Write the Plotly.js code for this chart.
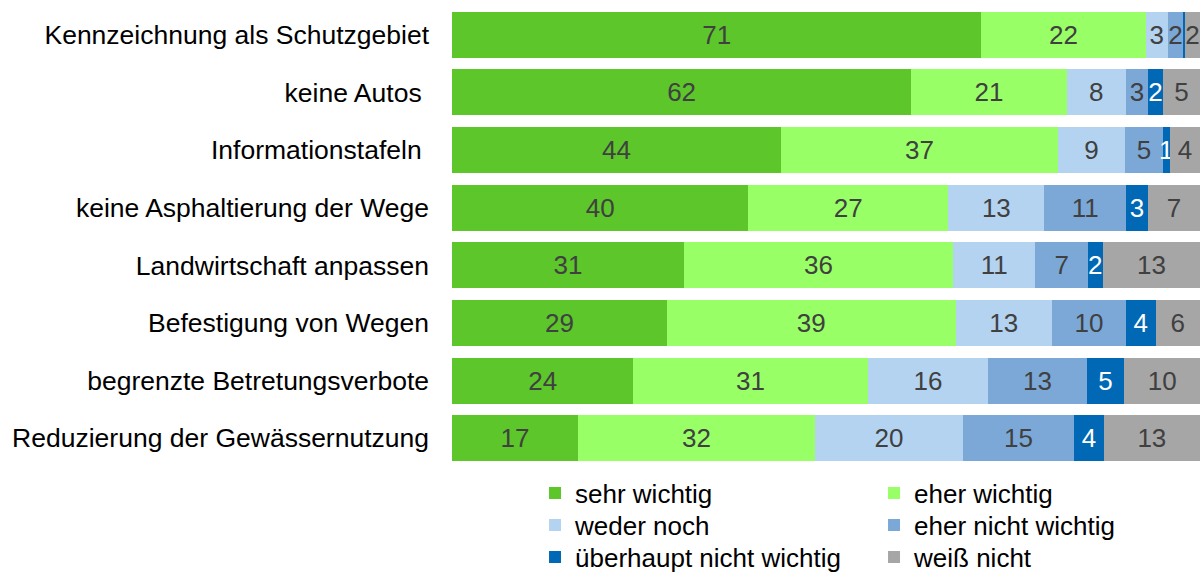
<!DOCTYPE html>
<html>
<head>
<meta charset="utf-8">
<script src="https://cdn.plot.ly/plotly-3.0.1.min.js"></script>
<style>html,body{margin:0;padding:0;background:#fff}#chart{width:1203px;height:574px}</style>
</head>
<body>
<div id="chart"></div>
<script>
var categories = ["Kennzeichnung als Schutzgebiet","keine Autos ","Informationstafeln ","keine Asphaltierung der Wege","Landwirtschaft anpassen","Befestigung von Wegen","begrenzte Betretungsverbote","Reduzierung der Gewässernutzung"];
var seriesNames = ["sehr wichtig","eher wichtig","weder noch","eher nicht wichtig","überhaupt nicht wichtig","weiß nicht"];
var sehrWichtig = [71,62,44,40,31,29,24,17];
var eherWichtig = [22,21,37,27,36,39,31,32];
var wederNoch = [3,8,9,13,11,13,16,20];
var eherNichtWichtig = [2,3,5,11,7,10,13,15];
var ueberhauptNichtWichtig = [0.3,2,1,3,2,4,5,4];
var weissNicht = [2,5,4,7,13,6,10,13];

var seriesValues = [sehrWichtig,eherWichtig,wederNoch,eherNichtWichtig,ueberhauptNichtWichtig,weissNicht];
var colors = ["#5CC62B","#99FF66","#B3D3F0","#7BA8D7","#0068B4","#A6A6A6"];
var textColors = ["#404040","#404040","#404040","#404040","#FFFFFF","#404040"];
var legendIds = ["legend","legend","legend2","legend2","legend3","legend3"];
var FONT = "Liberation Sans, Arial, sans-serif";

var traces = seriesValues.map(function(vals, i){
  return {
    type: "bar",
    orientation: "h",
    name: seriesNames[i],
    legend: legendIds[i],
    y: categories,
    x: vals,
    text: vals.map(function(v){ return v >= 0.5 ? String(Math.round(v)) : ""; }),
    textposition: "inside",
    insidetextanchor: "middle",
    constraintext: "none",
    textangle: 0,
    textfont: {family: FONT, size: 26, color: textColors[i]},
    marker: {color: colors[i], line: {width: 0}},
    hoverinfo: "name+x"
  };
});

function legendRow(yPos){
  return {
    orientation: "h",
    x: 0.111, xanchor: "left",
    y: yPos, yanchor: "middle",
    entrywidth: 294, entrywidthmode: "pixels",
    traceorder: "normal",
    font: {family: FONT, size: 26, color: "#000"},
    bgcolor: "rgba(0,0,0,0)",
    itemclick: false
  };
}

var layout = {
  width: 1203,
  height: 574,
  barmode: "stack",
  barnorm: "percent",
  bargap: 0.2,
  margin: {l: 452, r: 3, t: 6, b: 107, autoexpand: false},
  paper_bgcolor: "#fff",
  plot_bgcolor: "#fff",
  font: {family: FONT, size: 26.5, color: "#000"},
  xaxis: {range: [0, 100], visible: false, fixedrange: true},
  yaxis: {autorange: "reversed", showline: false, showgrid: false, ticks: "", ticklabelstandoff: 22,
          tickfont: {family: FONT, size: 26.5, color: "#000"}},
  showlegend: true,
  legend: legendRow(-0.0564),
  legend2: legendRow(-0.1262),
  legend3: legendRow(-0.1952)
};

Plotly.newPlot("chart", traces, layout, {displayModeBar: false, staticPlot: true});
</script>
</body>
</html>
